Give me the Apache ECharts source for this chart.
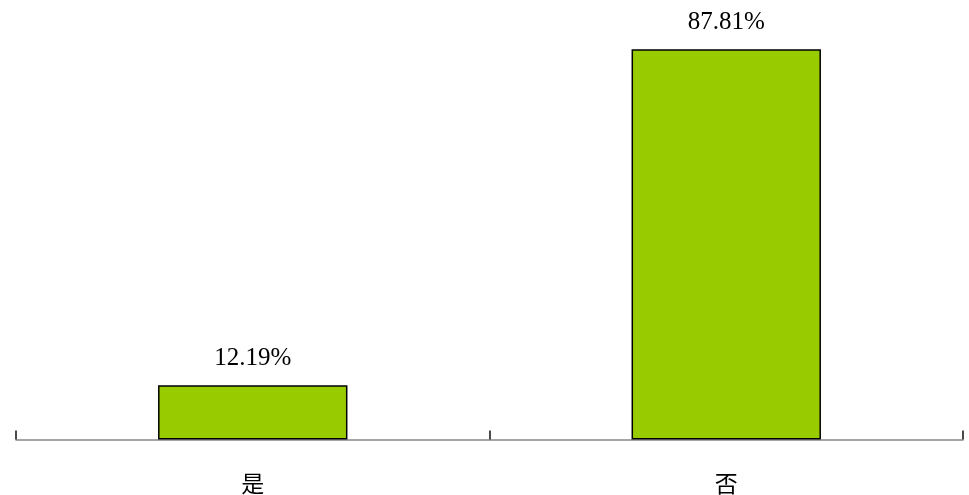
<!DOCTYPE html>
<html><head><meta charset="utf-8">
<script src="https://cdn.jsdelivr.net/npm/echarts@6/dist/echarts.min.js"></script>
<style>html,body{margin:0;padding:0;background:#fff}#c{width:969px;height:495px}</style>
</head><body><div id="c"></div>
<script>
const categories = ['是', '否'];
const values = [12.19, 87.81];
const chart = echarts.init(document.getElementById('c'));
chart.setOption({
  animation: false,
  grid: { left: 16, right: 6, top: 39.5, bottom: 55.5 },
  xAxis: {
    type: 'category', data: categories,
    axisLine: { show: true, lineStyle: { color: '#888', width: 1.5 } },
    axisTick: { show: true, inside: true, length: 9, lineStyle: { color: '#111', width: 1.5 } },
    axisLabel: { fontFamily: "'Noto Sans CJK SC'", fontSize: 23, color: '#000', margin: 32 }
  },
  yAxis: { type: 'value', min: 0, max: 90, show: false, splitLine: { show: false } },
  series: [{
    type: 'bar', data: values, barWidth: '40%',
    itemStyle: { color: '#99CC00', borderColor: '#000', borderWidth: 1.5 },
    label: { show: true, position: 'top', distance: 14, formatter: p => p.value.toFixed(2) + '%',
      fontFamily: "'Liberation Serif', 'Times New Roman', serif", fontSize: 25, color: '#000' }
  }]
});
</script></body></html>
